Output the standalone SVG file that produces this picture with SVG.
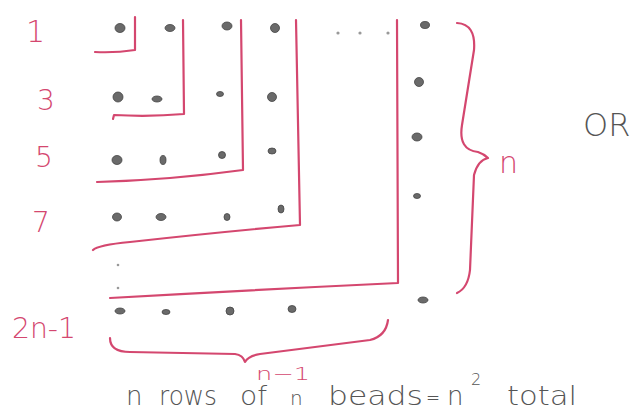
<svg xmlns="http://www.w3.org/2000/svg" width="633" height="415" viewBox="0 0 633 415">
<style>
.ink{fill:none;stroke:#d4476f;stroke-width:2.2;stroke-linecap:round;stroke-linejoin:round}
.lbl{font-family:"DejaVu Sans","Liberation Sans",sans-serif;font-weight:200;fill:#d4476f}
.hand{font-family:"DejaVu Sans","Liberation Sans",sans-serif;font-weight:200;fill:#555}
.bead{fill:#6a6a6a;stroke:#444;stroke-width:0.8}
.dot{fill:#999}
</style>
<rect width="633" height="415" fill="#fff"/>
<g id="row-labels">
<text class="lbl" x="26" y="42" font-size="30">1</text>
<text class="lbl" x="37" y="110" font-size="28">3</text>
<text class="lbl" x="35" y="167" font-size="28">5</text>
<text class="lbl" x="32" y="232" font-size="28">7</text>
<text class="lbl" x="12" y="338" font-size="28" textLength="64" lengthAdjust="spacingAndGlyphs">2n-1</text>
</g>
<g id="beads">
<ellipse class="bead" cx="120" cy="28" rx="5" ry="4.5"/>
<ellipse class="bead" cx="170" cy="28" rx="5" ry="3.5"/>
<ellipse class="bead" cx="227" cy="26" rx="5" ry="4"/>
<ellipse class="bead" cx="275" cy="28" rx="4.5" ry="4.5"/>
<ellipse class="bead" cx="425" cy="25" rx="4.5" ry="3.5"/>
<ellipse class="bead" cx="118" cy="97" rx="5" ry="5"/>
<ellipse class="bead" cx="157" cy="99" rx="5" ry="3"/>
<ellipse class="bead" cx="220" cy="94" rx="3.5" ry="2.5"/>
<ellipse class="bead" cx="272" cy="97" rx="4.5" ry="4.5"/>
<ellipse class="bead" cx="419" cy="82" rx="4.5" ry="4.5"/>
<ellipse class="bead" cx="117" cy="160" rx="5" ry="4.5"/>
<ellipse class="bead" cx="163" cy="160" rx="3" ry="4.5"/>
<ellipse class="bead" cx="222" cy="155" rx="3.5" ry="3.5"/>
<ellipse class="bead" cx="272" cy="151" rx="4" ry="3"/>
<ellipse class="bead" cx="417" cy="137" rx="5" ry="4"/>
<ellipse class="bead" cx="117" cy="217" rx="4.5" ry="4"/>
<ellipse class="bead" cx="161" cy="217" rx="5" ry="3.5"/>
<ellipse class="bead" cx="227" cy="217" rx="3" ry="3.5"/>
<ellipse class="bead" cx="281" cy="209" rx="3" ry="4"/>
<ellipse class="bead" cx="417" cy="196" rx="3.5" ry="2.5"/>
<ellipse class="bead" cx="120" cy="311" rx="5" ry="3"/>
<ellipse class="bead" cx="166" cy="312" rx="4" ry="2.5"/>
<ellipse class="bead" cx="230" cy="311" rx="4" ry="4"/>
<ellipse class="bead" cx="292" cy="309" rx="4" ry="3.5"/>
<ellipse class="bead" cx="423" cy="300" rx="5" ry="3"/>
<circle class="dot" cx="338" cy="33" r="1.6"/>
<circle class="dot" cx="360" cy="33" r="1.6"/>
<circle class="dot" cx="388" cy="33" r="1.6"/>
<circle class="dot" cx="118" cy="265" r="1.3"/>
<circle class="dot" cx="118" cy="288" r="1.3"/>
</g>
<g id="connectors">
<path class="ink" d="M95,52 Q115,53 135,50 L135,17"/>
<path class="ink" d="M113,119 L114,115 Q150,117 184,114 L183,20"/>
<path class="ink" d="M97,182 Q170,180 243,170 L241,20"/>
<path class="ink" d="M93,250 Q98,245 130,242 Q220,232 300,225 L296,20"/>
<path class="ink" d="M110,298 Q250,290 398,283 L397,20"/>
<path class="ink" d="M110,338 Q110,352 130,352 L235,354 Q243,355 245,362 Q248,356 260,354 L370,340 Q386,336 388,320"/>
<path class="ink" d="M457,23 Q476,24 474,50 L462,125 Q458,150 478,152 Q484,154 488,158 Q478,160 474,175 L470,270 Q468,288 457,293"/>
</g>
<g id="brace-labels">
<text class="lbl" x="499" y="173" font-size="30">n</text>
<text class="lbl" x="256" y="380" font-size="17" textLength="54" lengthAdjust="spacingAndGlyphs">n−1</text>
</g>
<g id="caption">
<text class="hand" x="126" y="405" font-size="26">n</text>
<text class="hand" x="159" y="405" font-size="26" textLength="58" lengthAdjust="spacingAndGlyphs">rows</text>
<text class="hand" x="240" y="405" font-size="26" textLength="27" lengthAdjust="spacingAndGlyphs">of</text>
<text class="hand" x="290" y="405" font-size="20">n</text>
<text class="hand" x="328" y="405" font-size="26" textLength="95" lengthAdjust="spacingAndGlyphs">beads</text>
<text class="hand" x="426" y="405" font-size="22" textLength="14" lengthAdjust="spacingAndGlyphs">=</text>
<text class="hand" x="447" y="405" font-size="26">n</text>
<text class="hand" x="471" y="385" font-size="16">2</text>
<text class="hand" x="507" y="405" font-size="26" textLength="70" lengthAdjust="spacingAndGlyphs">total</text>
</g>
<g id="or-label">
<text class="hand" x="583" y="136" font-size="32">OR</text>
</g>
</svg>
